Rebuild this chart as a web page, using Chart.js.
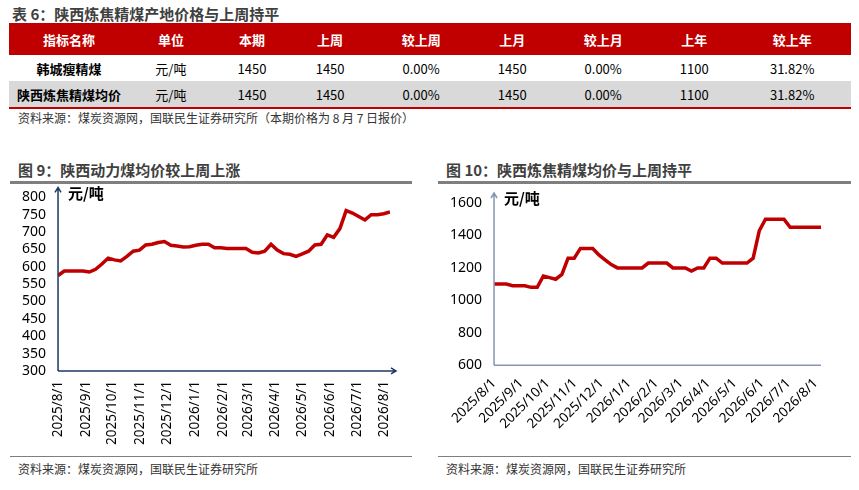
<!DOCTYPE html>
<html><head><meta charset="utf-8">
<script src="https://cdn.jsdelivr.net/npm/chart.js@4"></script>
<style>
body{margin:0;width:859px;height:490px;background:#fff;font-family:"Noto Sans CJK SC","Microsoft YaHei",sans-serif;position:relative;overflow:hidden}
.t{position:absolute;font-weight:bold;font-size:15px;color:#404040}
table{position:absolute;left:9px;top:23px;width:842px;border-collapse:collapse;font-size:13px;border-bottom:2px solid #c00000}
th{background:#c00000;color:#fff;height:30px;font-weight:bold}
td{height:24px;text-align:center;color:#000}
tr.g td{background:#d9d9d9}
td:first-child{font-weight:bold}
.src{position:absolute;font-size:12px;color:#333}
.hl{position:absolute;height:3px;background:#7f7f7f}
.bl{position:absolute;height:1px;background:#7f7f7f}
.box{position:absolute}
</style></head><body>
<div class="t" style="left:12px;top:3px">表 6：陕西炼焦精煤产地价格与上周持平</div>
<table>
<tr><th style="width:118px">指标名称</th><th>单位</th><th>本期</th><th>上周</th><th>较上周</th><th>上月</th><th>较上月</th><th>上年</th><th>较上年</th></tr>
<tr><td>韩城瘦精煤</td><td>元/吨</td><td>1450</td><td>1450</td><td>0.00%</td><td>1450</td><td>0.00%</td><td>1100</td><td>31.82%</td></tr>
<tr class="g"><td>陕西炼焦精煤均价</td><td>元/吨</td><td>1450</td><td>1450</td><td>0.00%</td><td>1450</td><td>0.00%</td><td>1100</td><td>31.82%</td></tr>
</table>
<div class="src" style="left:18px;top:109px">资料来源：煤炭资源网，国联民生证券研究所（本期价格为 8 月 7 日报价）</div>
<div class="t" style="left:18px;top:159px">图 9：陕西动力煤均价较上周上涨</div>
<div class="t" style="left:446px;top:159px">图 10：陕西炼焦精煤均价与上周持平</div>
<div class="hl" style="left:10px;top:181px;width:402px"></div>
<div class="hl" style="left:438px;top:181px;width:413px"></div>
<div class="box" style="left:10px;top:185px;width:402px;height:262px"><canvas id="c1"></canvas></div>
<div class="box" style="left:438px;top:185px;width:413px;height:265px"><canvas id="c2"></canvas></div>
<div class="bl" style="left:10px;top:456px;width:402px"></div>
<div class="bl" style="left:438px;top:456px;width:413px"></div>
<div class="src" style="left:18px;top:460px">资料来源：煤炭资源网，国联民生证券研究所</div>
<div class="src" style="left:446px;top:460px">资料来源：煤炭资源网，国联民生证券研究所</div>
<script>
const monthLabels = ['2025/8/1','2025/9/1','2025/10/1','2025/11/1','2025/12/1','2026/1/1','2026/2/1','2026/3/1','2026/4/1','2026/5/1','2026/6/1','2026/7/1','2026/8/1'];
const thermalPrice = [575,588,588,588,588,585,593,608,625,620,617,630,645,648,663,665,670,673,662,660,657,658,662,665,665,655,655,653,653,653,653,642,640,645,665,648,638,636,630,637,645,663,665,692,685,710,762,755,745,735,750,750,753,758];
const cokingPrice = [1100,1100,1100,1090,1090,1090,1080,1080,1150,1140,1130,1160,1260,1260,1320,1320,1320,1280,1250,1220,1200,1200,1200,1200,1200,1230,1230,1230,1230,1200,1200,1200,1180,1200,1200,1260,1260,1230,1230,1230,1230,1230,1260,1430,1500,1500,1500,1500,1450,1450,1450,1450,1450,1450];
const startDate = new Date(2025, 7, 1);
const dayOf = s => { const [y, m, d] = s.split('/').map(Number); return Math.round((new Date(y, m - 1, d) - startDate) / 864e5); };
const monthDays = monthLabels.map(dayOf);
const weekPoints = vals => vals.map((v, i) => ({ x: i * 7, y: v }));
const NAVY = '#1f3864';

const arrows = {
  id: 'arrows',
  afterDraw(chart) {
    const { ctx, chartArea: a } = chart;
    ctx.save();
    ctx.strokeStyle = NAVY; ctx.lineWidth = 1.5;
    ctx.beginPath();
    ctx.moveTo(a.left, a.bottom); ctx.lineTo(a.left, a.top - 10);
    ctx.moveTo(a.left - 3, a.top - 5); ctx.lineTo(a.left, a.top - 10); ctx.lineTo(a.left + 3, a.top - 5);
    if (chart.options.xArrow) {
      ctx.moveTo(a.left, a.bottom); ctx.lineTo(a.right + 6, a.bottom);
      ctx.moveTo(a.right + 1, a.bottom - 3); ctx.lineTo(a.right + 6, a.bottom); ctx.lineTo(a.right + 1, a.bottom + 3);
    } else {
      ctx.strokeStyle = '#8497b0';
      ctx.moveTo(a.left, a.bottom); ctx.lineTo(a.right, a.bottom);
    }
    ctx.stroke();
    ctx.fillStyle = '#000';
    ctx.font = 'bold 15px "Noto Sans CJK SC"';
    ctx.textBaseline = 'top';
    ctx.fillText('元/吨', a.left + 10, a.top - 12);
    ctx.restore();
  }
};

function makeChart(id, vals, yMin, yMax, yStep, rot, xArrow, pad) {
  new Chart(document.getElementById(id), {
    type: 'line',
    data: { datasets: [{ data: weekPoints(vals), borderColor: '#c00000', borderWidth: 3.5, pointRadius: 0, tension: 0 }] },
    plugins: [arrows],
    options: {
      xArrow,
      responsive: true, maintainAspectRatio: false, animation: false,
      layout: { padding: pad },
      plugins: { legend: { display: false }, tooltip: { enabled: false } },
      scales: {
        x: {
          type: 'linear', min: 0, max: 371,
          afterBuildTicks: s => { s.ticks = monthDays.map(v => ({ value: v })); },
          grid: { display: false }, border: { display: false },
          ticks: { autoSkip: false, maxRotation: rot, minRotation: rot, color: '#000', padding: 2, font: { size: 13.5, family: 'Noto Sans' },
            callback: v => monthLabels[monthDays.indexOf(v)] }
        },
        y: {
          min: yMin, max: yMax,
          grid: { display: false }, border: { display: false },
          ticks: { stepSize: yStep, autoSkip: false, color: '#000', font: { size: 14, family: 'Noto Sans' }, padding: 4,
            callback: v => String(v) }
        }
      }
    }
  });
}
makeChart('c1', thermalPrice, 300, 800, 50, 90, true, { top: 8, right: 22, left: 8, bottom: 0 });
makeChart('c2', cokingPrice, 600, 1600, 200, 45, false, { top: 18, right: 30, left: 8, bottom: 16 });
</script>
</body></html>
